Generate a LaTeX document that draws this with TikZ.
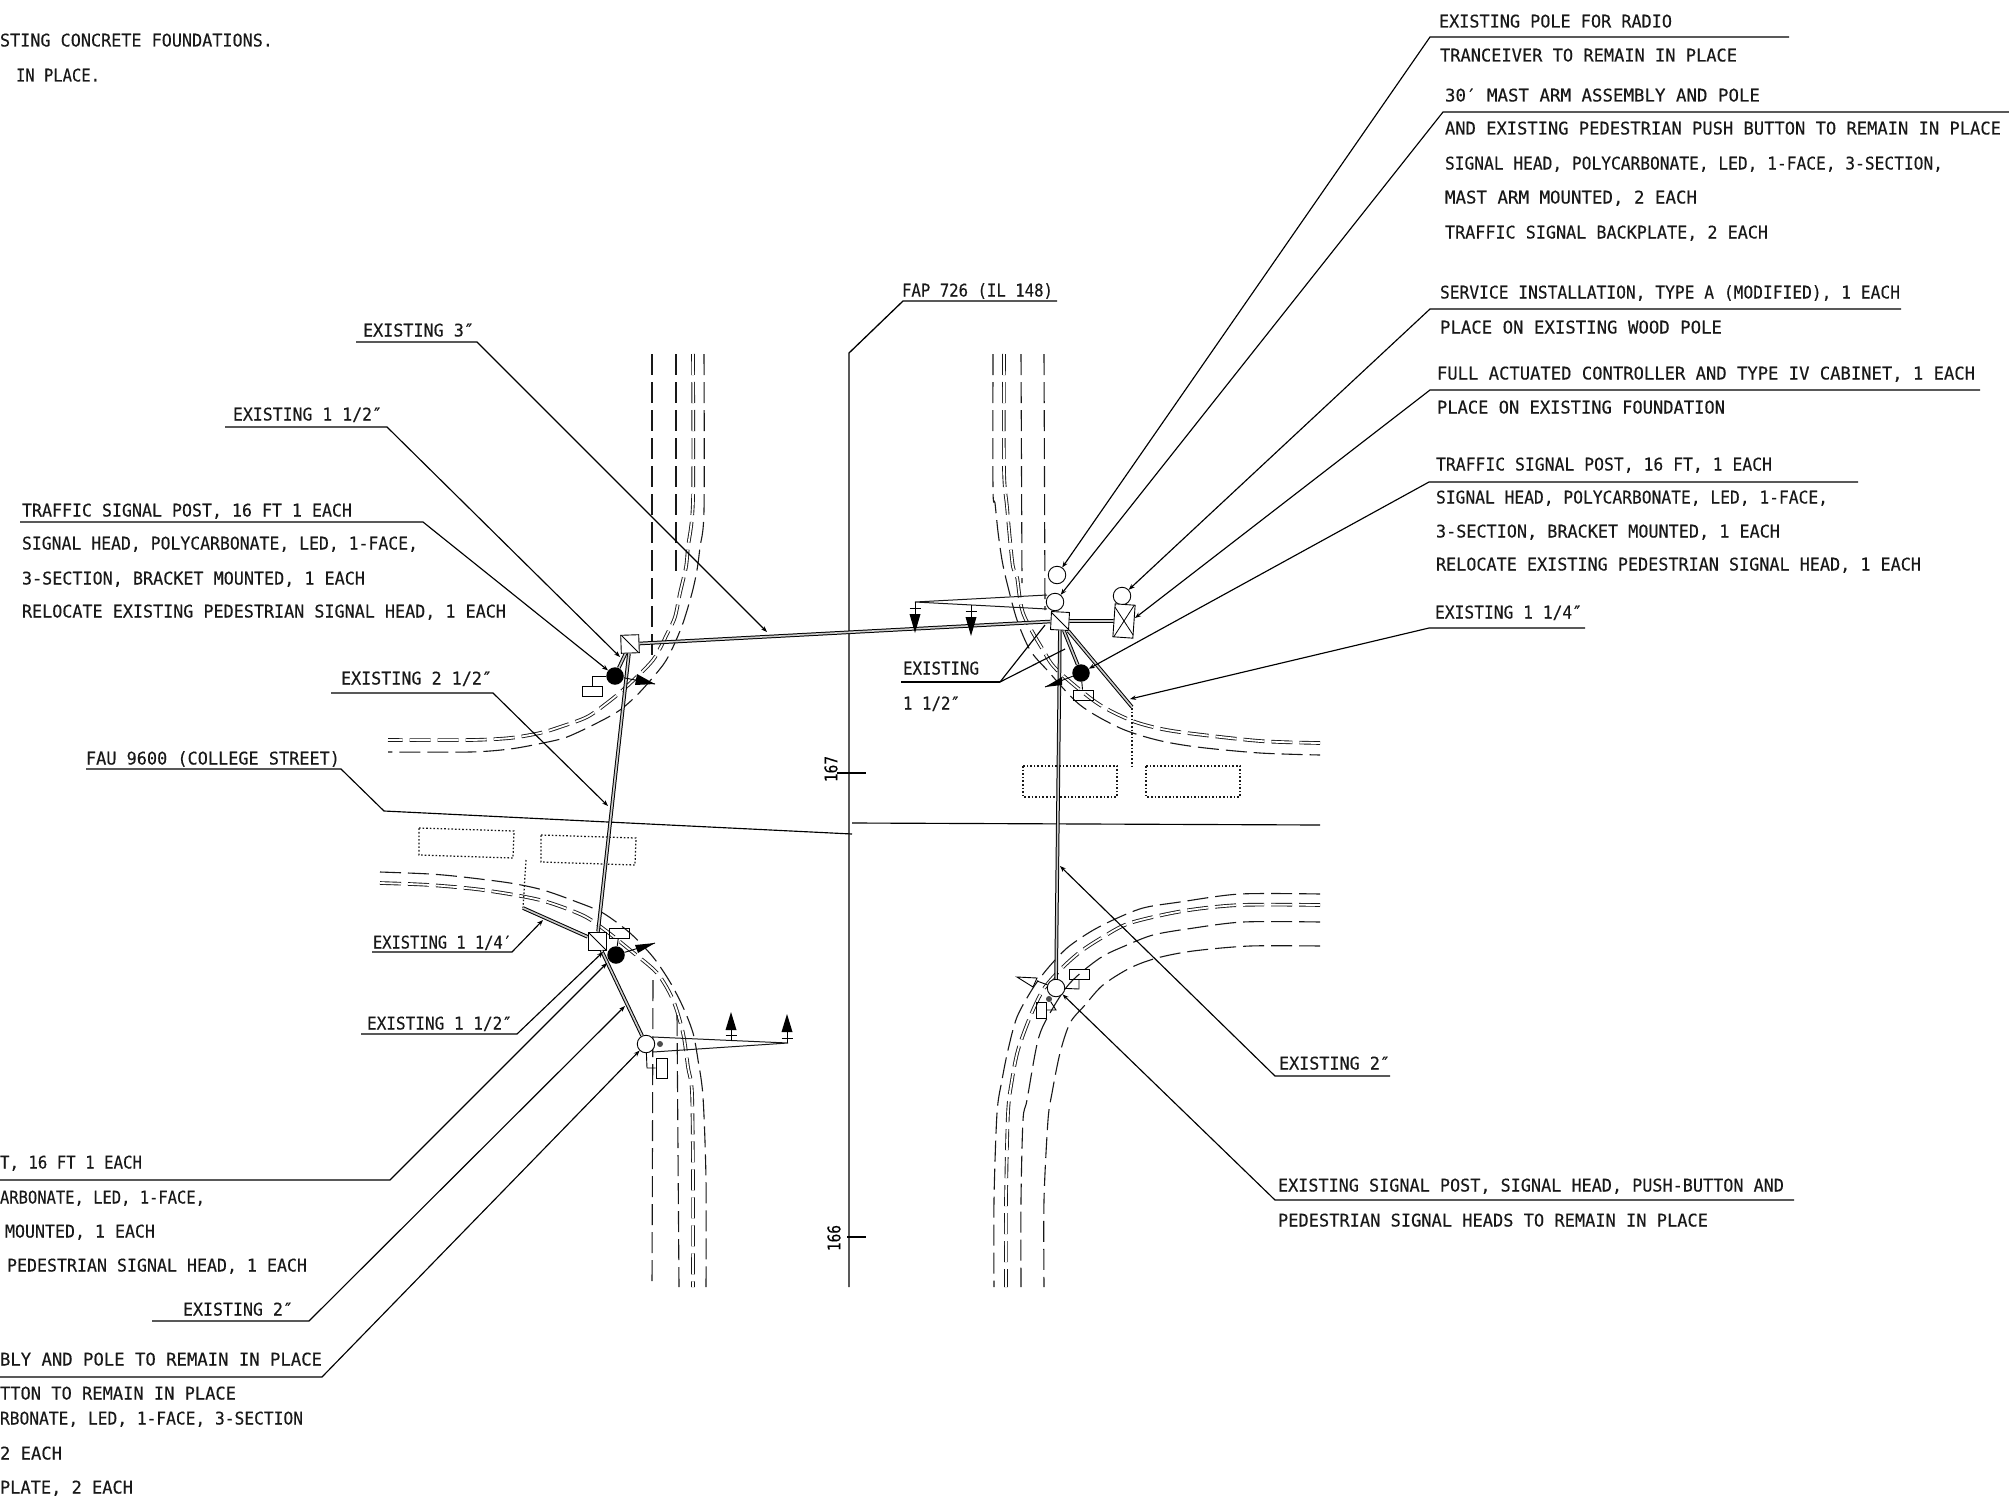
\documentclass[tikz,border=0pt]{standalone}
\usepackage{fontspec}
\usepackage{graphicx}
\setmainfont{DejaVu Sans Mono}[FakeBold=0.25]
\usetikzlibrary{arrows.meta}
\tikzset{
  lbl/.style={anchor=base west,inner sep=0pt,outer sep=0pt,font=\fontsize{17.5}{20}\selectfont,text=black!90},
  road/.style={line width=1.1pt,dash pattern=on 21pt off 7pt,black!90},
  roaddbl/.style={road,double,double distance=1.8pt,line width=.9pt},
  padline/.style={line width=1.25pt,dash pattern=on 1.6pt off 2pt,black!90},
  leader/.style={line width=1.15pt,black,-{Stealth[length=6pt,width=4.5pt]}},
  plainleader/.style={line width=1.15pt,black},
  conduit/.style={double=black!20,line width=1pt,double distance=1.6pt,black},
  pole/.style={circle,draw,fill=white,inner sep=0pt,minimum size=17.5pt,line width=.9pt},
  lamp/.style={circle,fill=black,inner sep=0pt,minimum size=17.5pt},
  tinylamp/.style={circle,fill=black!70,inner sep=0pt,minimum size=6pt},
  jbox/.style={rectangle,draw,fill=white,inner sep=0pt,minimum size=18pt,line width=.9pt,
    path picture={\draw[line width=.8pt] (path picture bounding box.north west) -- (path picture bounding box.south east);}},
  smallrect/.style={rectangle,draw,inner sep=0pt,line width=.9pt},
  wire/.style={line width=.9pt,black},
  armline/.style={line width=1pt,black!90},
}
\newcommand{\lbl}[5]{\node[lbl] (#1) at (#2,#4+6.5) {\resizebox{\dimexpr #3pt-#2pt\relax}{\height}{#5}};}
% name, free end x, corner x, y, target
\newcommand{\ruleto}[5]{\coordinate (#1-a) at (#2,#4); \coordinate (#1-b) at (#3,#4);
  \draw[leader] (#1-a) -- (#1-b) -- (#5);}
\newcommand{\sighead}[6]{\node[inner sep=0pt,minimum size=0pt] (#1) at (#2,#3) {};
  \fill[black] (#1.center) -- (#2-5.5,#4) -- (#2+5.5,#4) -- cycle;
  \draw[wire] (#2-5.5,#5) -- (#2+5.5,#5);
  \draw[wire] (#2,#4) -- (#2,#6);}
\begin{document}
\begin{tikzpicture}[x=1pt,y=-1pt]
\useasboundingbox (0,0) rectangle (2009,1501);
\fill[white] (0,0) rectangle (2009,1501);

% --- road edges, NW quadrant
\draw[road] (652,354) -- (652,655);
\draw[road] (676,354) -- (676,577);
\draw[road] plot[smooth,tension=.5] coordinates {(704,354) (704,510) (700,547) (697,570) (692,593) (683,623) (673,647) (663,665) (640,692) (620,710) (597,723) (567,737) (543,743) (510,749) (470,752) (388,752)};
\draw[roaddbl] plot[smooth,tension=.5] coordinates {(693,354) (693,500) (688,547) (686,567) (680,593) (675,617) (668,632) (653,660) (625,688) (607,703) (587,717) (560,727) (540,733) (510,738) (470,740) (388,740)};
% --- NE quadrant
\draw[road] (1021,354) -- (1022,583);
\draw[road] (1044,354) -- (1045,610);
\draw[road] plot[smooth,tension=.5] coordinates {(993,354) (993,490) (995,503) (998,532) (1002,560) (1007,583) (1017,620) (1030,650) (1047,670) (1080,705) (1120,728) (1157,740) (1197,747) (1260,753) (1320,755)};
\draw[roaddbl] plot[smooth,tension=.5] coordinates {(1004,354) (1004,470) (1007,507) (1010,540) (1013,567) (1017,577) (1023,613) (1043,650) (1057,670) (1097,703) (1130,720) (1157,728) (1187,733) (1260,741) (1320,743)};
% --- SE quadrant
\draw[road] plot[smooth,tension=.5] coordinates {(1320,894) (1240,894) (1180,902) (1143,908) (1113,920) (1090,932) (1067,948) (1048,968) (1033,988) (1017,1017) (1008,1050) (1002,1080) (997,1113) (994,1200) (994,1287)};
\draw[roaddbl] plot[smooth,tension=.5] coordinates {(1320,905) (1240,905) (1183,911) (1130,923) (1103,937) (1080,952) (1060,970) (1043,990) (1030,1017) (1018,1050) (1012,1080) (1008,1113) (1006,1200) (1006,1287)};
\draw[road] plot[smooth,tension=.5] coordinates {(1320,922) (1243,922) (1187,929) (1153,935) (1127,945) (1100,958) (1070,983) (1050,1013) (1038,1040) (1027,1100) (1023,1120) (1021,1200) (1021,1287)};
\draw[road] plot[smooth,tension=.5] coordinates {(1320,946) (1250,946) (1193,951) (1157,958) (1130,968) (1103,985) (1085,1005) (1070,1023) (1060,1053) (1052,1093) (1048,1120) (1044,1200) (1044,1287)};
% --- SW quadrant
\draw[road] plot[smooth,tension=.5] coordinates {(380,872) (430,874) (463,877) (510,883) (543,890) (577,902) (603,913) (630,933) (653,957) (670,982) (683,1007) (693,1033) (698,1060) (703,1097) (706,1180) (706,1287)};
\draw[roaddbl] plot[smooth,tension=.5] coordinates {(380,883) (430,885) (483,890) (540,900) (582,915) (605,930) (630,950) (657,973) (673,1000) (683,1033) (688,1067) (692,1093) (693,1180) (693,1287)};
\draw[road] (653,980) -- (652,1287);
\draw[road] (677,1015) -- (679,1287);

% --- dotted pads
\draw[padline] (1023,766) rectangle (1117,797);
\draw[padline] (1146,766) rectangle (1240,797);
\draw[padline] (1132,708) -- (1132,766);
\draw[padline] (419,828) -- (514,831) -- (513,858) -- (419,855) -- cycle;
\draw[padline] (541,835) -- (636,838) -- (635,865) -- (541,862) -- cycle;
\draw[padline] (526,860) -- (523,908);

% --- centre lines and station ticks
\coordinate (fapa) at (1057,301); \coordinate (fapb) at (903,301); \coordinate (fapc) at (849,353); \coordinate (fapd) at (849,1287);
\draw[plainleader,line width=1.3pt] (fapa) -- (fapb) -- (fapc) -- (fapd);
\coordinate (ewa) at (852,823); \coordinate (ewb) at (1320,825);
\draw[plainleader] (ewa) -- (ewb);
\coordinate (fau0) at (86,769); \coordinate (fau1) at (341,769); \coordinate (fau2) at (384,811); \coordinate (fau3) at (852,834);
\draw[plainleader] (fau0) -- (fau1) -- (fau2) -- (fau3);
\coordinate (t167a) at (837,773); \coordinate (t167b) at (866,773);
\draw[plainleader] (t167a) -- (t167b);
\coordinate (t166a) at (847,1237); \coordinate (t166b) at (866,1237);
\draw[plainleader] (t166a) -- (t166b);
\node[inner sep=0pt,rotate=90,font=\fontsize{17.5}{20}\selectfont] (n167) at (831,769) {\resizebox{26pt}{\height}{167}};
\node[inner sep=0pt,rotate=90,font=\fontsize{17.5}{20}\selectfont] (n166) at (834,1238) {\resizebox{26pt}{\height}{166}};

% --- equipment nodes
\node[jbox,rotate=2] (boxN) at (630,644) {};
\node[jbox] (boxW) at (597,941) {};
\node[jbox,rotate=-3] (boxE) at (1060,621) {};
\node[lamp] (lampN) at (615,676) {};
\node[lamp] (lampW) at (616,955) {};
\node[lamp] (lampE) at (1081,673) {};
\node[smallrect,minimum width=20pt,minimum height=10pt] (rectN) at (592,691) {};
\node[smallrect,minimum width=20pt,minimum height=10pt] (rectW) at (619,933) {};
\node[smallrect,minimum width=20pt,minimum height=10pt] (rectE) at (1083,695) {};
\node[smallrect,minimum width=20pt,minimum height=10pt] (rectS) at (1079,974) {};
\node[smallrect,minimum width=11pt,minimum height=20pt] (rectSW) at (661.5,1068) {};
\node[smallrect,minimum width=10pt,minimum height=16pt] (rectSE) at (1041,1010) {};
\node[pole] (radio) at (1057,575) {};
\node[pole] (mastE) at (1055,602) {};
\node[pole] (cabpole) at (1122,596) {};
\node[pole] (mastW) at (646,1044) {};
\node[pole] (postS) at (1056,988) {};
\node[tinylamp] (dotW) at (660,1044) {};
\node[tinylamp] (dotS) at (1049,999) {};
\node[rectangle,draw,fill=white,line width=.9pt,inner sep=0pt,minimum width=20pt,minimum height=33pt,rotate=-4,
  path picture={\draw[line width=.8pt] (path picture bounding box.north west) -- (path picture bounding box.south east);
                \draw[line width=.8pt] (path picture bounding box.north east) -- (path picture bounding box.south west);}] (cab) at (1124,621) {};

% --- conduits
\draw[conduit] (boxN) -- (boxE);
\draw[conduit] (boxN) -- (boxW);
\draw[conduit] (boxN) -- (lampN);
\draw[conduit] (boxW) -- (mastW);
\draw[conduit] (boxE) -- (cab);
\draw[conduit] (boxE) -- (lampE);
\draw[conduit] (boxE) -- (postS);
\coordinate (cE) at (1132,707); \coordinate (cW) at (523,908);
\draw[conduit] (boxE) -- (cE);
\draw[conduit] (boxW) -- (cW);

% --- wires between heads and their small boxes
\draw[wire] (lampN) -| (rectN);
\draw[wire] (rectW) -- (lampW);
\draw[wire] (lampE) -- (rectE);
\coordinate (ws1) at (1079,989);
\draw[wire] (rectS) -- (ws1) -- (postS);
\coordinate (wsw) at (647,1068);
\draw[wire] (mastW) -- (wsw) -- (rectSW);
\coordinate (wse1) at (1056,1010);
\draw[wire] (dotS) -- (wse1) -- (rectSE);

% --- pedestrian arrows
\coordinate (paN) at (655,684); \coordinate (paW) at (655,943); \coordinate (paE) at (1045,687); \coordinate (paS) at (1017,977);
\draw[wire] (lampN) -- (paN);
\fill (paN) -- (637,674) -- (635,685) -- cycle;
\draw[wire] (lampW) -- (paW);
\fill (paW) -- (635,945) -- (638,953) -- cycle;
\draw[wire] (lampE) -- (paE);
\fill (paE) -- (1062,677) -- (1062,685) -- cycle;
\draw[wire] (paS) -- (1037,978) -- (1033,987) -- cycle;
\draw[wire] (1037,981) -- (postS);

% --- mast arms and signal heads
\coordinate (armE) at (915,602); \coordinate (armE1) at (1047,595); \coordinate (armE2) at (1047,609); \coordinate (armE3) at (971,605);
\draw[armline] (armE1) -- (armE) -- (armE2);
\sighead{hdE1}{915}{633}{614}{608}{602}
\sighead{hdE2}{971}{636}{617}{611}{605}
\coordinate (armW) at (788,1043); \coordinate (armW1) at (653,1037); \coordinate (armW2) at (653,1052);
\draw[armline] (armW1) -- (armW) -- (armW2);
\sighead{hdW1}{731}{1012}{1030}{1035}{1041}
\sighead{hdW2}{787}{1014}{1032}{1038}{1043}

% --- leader targets
\coordinate (tgtA) at (767,632);
\coordinate (tgtB) at (620,657);
\coordinate (tgtC) at (608,806);
\coordinate (tgtD) at (543,920);
\coordinate (tgtE) at (603,952);
\coordinate (tgtF) at (607,963);
\coordinate (tgtG) at (625,1006);
\coordinate (tgtI) at (1135,618);
\coordinate (tgtJ) at (1090,668);
\coordinate (tgtK) at (1130,699);
\coordinate (tgtL) at (1060,866);
\coordinate (tgtM1) at (1045,625);
\coordinate (tgtM2) at (1065,649);

% --- leaders
\ruleto{lRadio}{1789}{1430}{37}{radio}
\ruleto{lMast}{2009}{1443}{112}{mastE}
\ruleto{lSvc}{1901}{1430}{309}{cabpole}
\ruleto{lCtl}{1980}{1430}{390}{tgtI}
\ruleto{lPostE}{1858}{1429}{482}{lampE}
\ruleto{lE114}{1585}{1429}{628}{tgtK}
\ruleto{lE2E}{1390}{1275}{1076}{tgtL}
\ruleto{lSigS}{1794}{1275}{1200}{postS}
\ruleto{lE3}{356}{477}{342}{tgtA}
\ruleto{lE112N}{225}{387}{427}{tgtB}
\ruleto{lPostN}{20}{423}{522}{lampN}
\ruleto{lE212}{331}{493}{693}{tgtC}
\ruleto{lE114W}{372}{512}{952}{tgtD}
\ruleto{lE112W}{361}{517}{1034}{tgtE}
\ruleto{lPostW}{0}{390}{1180}{tgtF}
\ruleto{lE2W}{152}{309}{1321}{tgtG}
\ruleto{lMastW}{0}{322}{1377}{mastW}
\coordinate (lEx0) at (901,682); \coordinate (lEx1) at (1000,682);
\draw[plainleader] (lEx0) -- (lEx1);
\draw[plainleader] (lEx1) -- (tgtM1);
\draw[plainleader] (lEx1) -- (tgtM2);

% --- labels, right side
\lbl{r1}{1439}{1672}{21}{EXISTING POLE FOR RADIO}
\lbl{r2}{1440}{1737}{55}{TRANCEIVER TO REMAIN IN PLACE}
\lbl{r3}{1445}{1760}{95}{30′ MAST ARM ASSEMBLY AND POLE}
\lbl{r4}{1445}{2001}{128}{AND EXISTING PEDESTRIAN PUSH BUTTON TO REMAIN IN PLACE}
\lbl{r5}{1445}{1943}{163}{SIGNAL HEAD, POLYCARBONATE, LED, 1-FACE, 3-SECTION,}
\lbl{r6}{1445}{1697}{197}{MAST ARM MOUNTED, 2 EACH}
\lbl{r7}{1445}{1768}{232}{TRAFFIC SIGNAL BACKPLATE, 2 EACH}
\lbl{r8}{1440}{1900}{292}{SERVICE INSTALLATION, TYPE A (MODIFIED), 1 EACH}
\lbl{r9}{1440}{1722}{327}{PLACE ON EXISTING WOOD POLE}
\lbl{r10}{1437}{1975}{373}{FULL ACTUATED CONTROLLER AND TYPE IV CABINET, 1 EACH}
\lbl{r11}{1437}{1725}{407}{PLACE ON EXISTING FOUNDATION}
\lbl{r12}{1436}{1772}{464}{TRAFFIC SIGNAL POST, 16 FT, 1 EACH}
\lbl{r13}{1436}{1828}{497}{SIGNAL HEAD, POLYCARBONATE, LED, 1-FACE,}
\lbl{r14}{1436}{1780}{531}{3-SECTION, BRACKET MOUNTED, 1 EACH}
\lbl{r15}{1436}{1921}{564}{RELOCATE EXISTING PEDESTRIAN SIGNAL HEAD, 1 EACH}
\lbl{r16}{1435}{1582}{612}{EXISTING 1 1/4″}
\lbl{r17}{903}{979}{668}{EXISTING}
\lbl{r18}{903}{960}{703}{1 1/2″}
\lbl{r19}{1279}{1390}{1063}{EXISTING 2″}
\lbl{r20}{1278}{1784}{1185}{EXISTING SIGNAL POST, SIGNAL HEAD, PUSH-BUTTON AND}
\lbl{r21}{1278}{1708}{1220}{PEDESTRIAN SIGNAL HEADS TO REMAIN IN PLACE}
\lbl{fap}{902}{1053}{290}{FAP 726 (IL 148)}
% --- labels, left side
\lbl{l1}{0}{273}{40}{STING CONCRETE FOUNDATIONS.}
\lbl{l2}{16}{100}{75}{IN PLACE.}
\lbl{l3}{363}{474}{330}{EXISTING 3″}
\lbl{l4}{233}{382}{414}{EXISTING 1 1/2″}
\lbl{l5}{22}{352}{510}{TRAFFIC SIGNAL POST, 16 FT 1 EACH}
\lbl{l6}{22}{418}{543}{SIGNAL HEAD, POLYCARBONATE, LED, 1-FACE,}
\lbl{l7}{22}{365}{578}{3-SECTION, BRACKET MOUNTED, 1 EACH}
\lbl{l8}{22}{506}{611}{RELOCATE EXISTING PEDESTRIAN SIGNAL HEAD, 1 EACH}
\lbl{l9}{341}{492}{678}{EXISTING 2 1/2″}
\lbl{l10}{86}{340}{758}{FAU 9600 (COLLEGE STREET)}
\lbl{l11}{373}{512}{942}{EXISTING 1 1/4′}
\lbl{l12}{367}{512}{1023}{EXISTING 1 1/2″}
\lbl{l13}{0}{142}{1162}{T, 16 FT 1 EACH}
\lbl{l14}{0}{205}{1197}{ARBONATE, LED, 1-FACE,}
\lbl{l15}{5}{155}{1231}{MOUNTED, 1 EACH}
\lbl{l16}{7}{307}{1265}{PEDESTRIAN SIGNAL HEAD, 1 EACH}
\lbl{l17}{183}{293}{1309}{EXISTING 2″}
\lbl{l18}{0}{322}{1359}{BLY AND POLE TO REMAIN IN PLACE}
\lbl{l19}{0}{236}{1393}{TTON TO REMAIN IN PLACE}
\lbl{l20}{0}{303}{1418}{RBONATE, LED, 1-FACE, 3-SECTION}
\lbl{l21}{0}{62}{1453}{2 EACH}
\lbl{l22}{0}{133}{1487}{PLATE, 2 EACH}
\end{tikzpicture}
\end{document}
